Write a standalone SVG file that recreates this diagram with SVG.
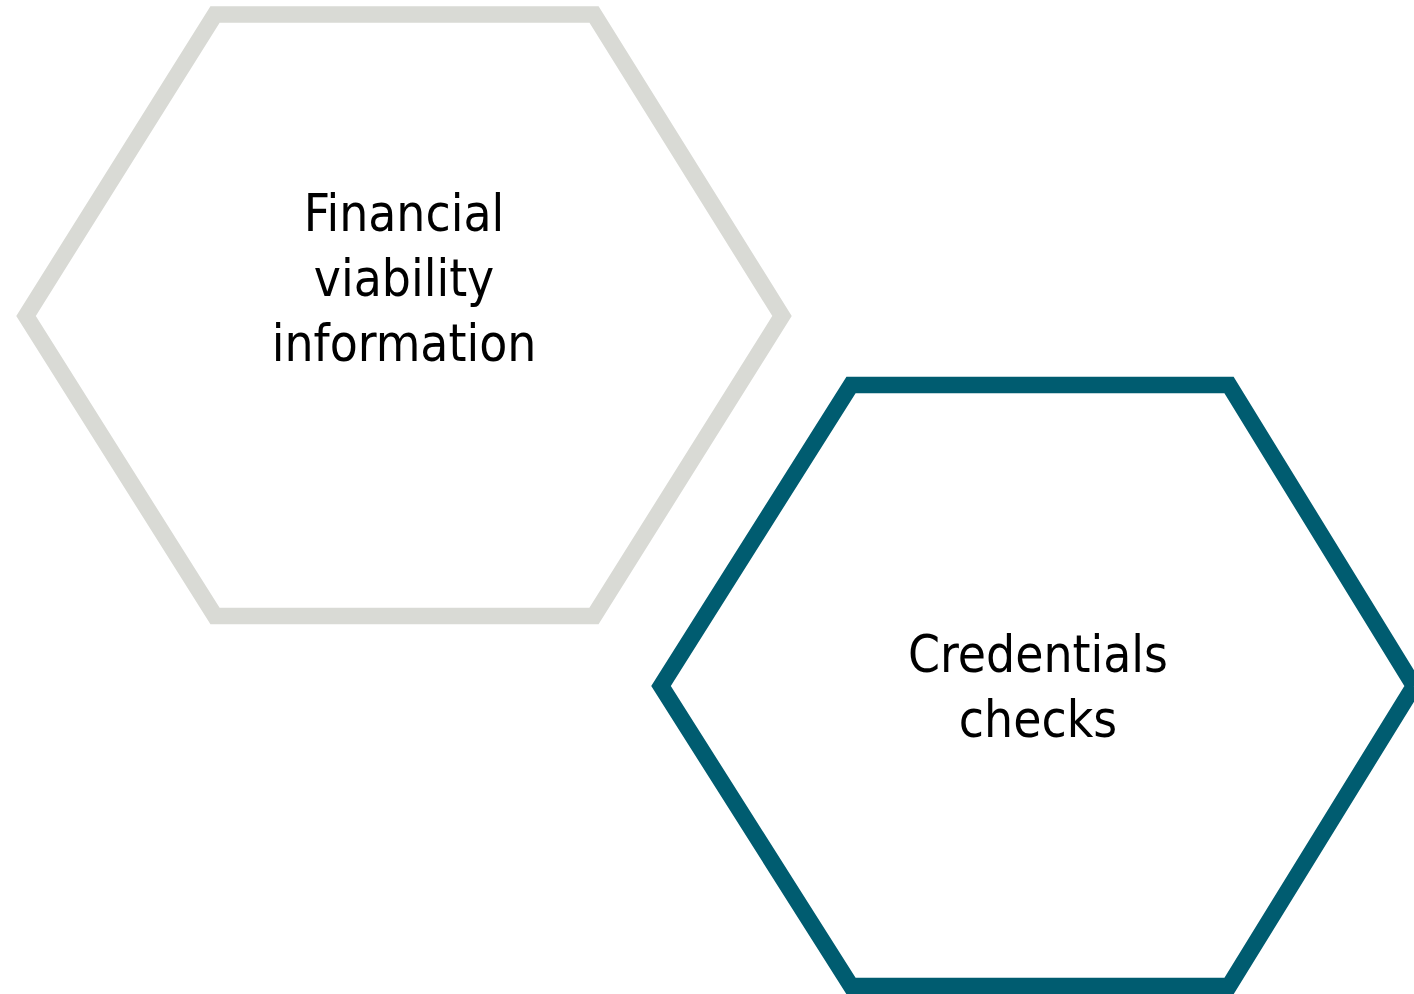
<svg xmlns="http://www.w3.org/2000/svg" width="1414" height="994" viewBox="0 0 1414 994">
<style>
.hex{fill:#ffffff;stroke-width:16.5;stroke-linejoin:miter;stroke-miterlimit:10}
.grey{stroke:#d9dad5}
.teal{stroke:#005c70}
.lbl{font-family:'DejaVu Sans Condensed','DejaVu Sans',sans-serif;font-size:51px;fill:#000000;text-anchor:middle}
</style>
<rect width="1414" height="994" fill="#ffffff"/>
<g id="node-financial">
<polygon class="hex grey" points="215,14.5 594,14.5 782,316 594,616 215,616 26,316"/>
<text class="lbl" x="404" y="231">Financial</text>
<text class="lbl" x="404" y="296">viability</text>
<text class="lbl" x="404" y="361">information</text>
</g>
<g id="node-credentials">
<polygon class="hex teal" points="851,385 1229,385 1414,686 1229,986 851,986 661,686"/>
<text class="lbl" x="1038" y="672">Credentials</text>
<text class="lbl" x="1038" y="737">checks</text>
</g>
<g id="connectors"></g>
</svg>
